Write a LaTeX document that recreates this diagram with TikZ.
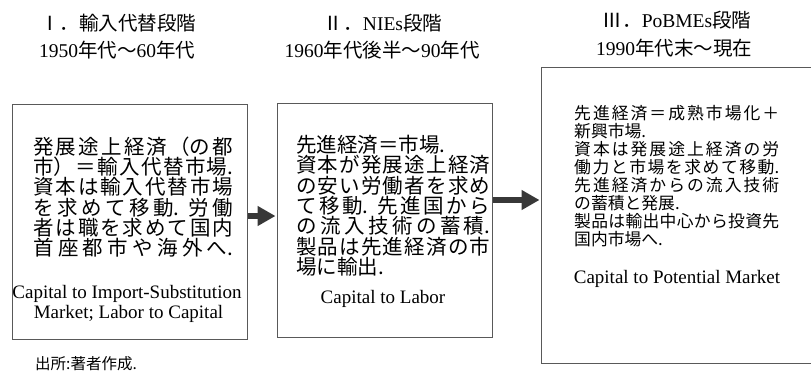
\documentclass[tikz,border=0pt]{standalone}
\usepackage{fontspec}
\setmainfont{Liberation Serif}
\newfontfamily\cjk{Noto Sans CJK JP}
\usetikzlibrary{arrows.meta}
\XeTeXlinebreaklocale "ja"
\XeTeXlinebreakskip=0pt plus 8pt
\newcommand\jfs[2]{\fontsize{#1pt}{#2pt}\selectfont}
\begin{document}
\begin{tikzpicture}[x=1pt,y=-1pt,
  stagebox/.style={draw=black!65, line width=1.1pt, anchor=north west, inner sep=0pt},
  jtext/.style={anchor=base west, inner sep=0pt, font=\cjk},
  etext/.style={anchor=base, inner sep=0pt, font=\fontsize{19pt}{20pt}\selectfont},
  head/.style={anchor=base, inner sep=0pt, font=\fontsize{19.5pt}{20pt}\selectfont},
  bigarrow/.style={line width=5.5pt, draw=black!78, -{Triangle[length=18pt,width=19pt]}, shorten >=1.5pt}
]
\useasboundingbox (0,0) rectangle (811,375);

% boxes
\node[stagebox, minimum width=235pt, minimum height=235pt] (b1) at (12,104) {};
\node[stagebox, minimum width=215pt, minimum height=234pt] (b2) at (277,103) {};
\node[stagebox, minimum width=272pt, minimum height=296pt] (b3) at (541,67) {};

% headings
\node[head] (h1a) at (118,30) {{\cjk Ⅰ．輸入代替段階}};
\node[head] (h1b) at (117,57) {1950{\cjk 年代～}60{\cjk 年代}};
\node[head] (h2a) at (383,30) {{\cjk Ⅱ．}NIEs{\cjk 段階}};
\node[head] (h2b) at (382,57) {1960{\cjk 年代後半～}90{\cjk 年代}};
\node[head] (h3a) at (677,27) {{\cjk Ⅲ．}PoBMEs{\cjk 段階}};
\node[head] (h3b) at (674,55) {1990{\cjk 年代末～現在}};

% box 1 text
\node[jtext] (t1) at (33,154.5) {\parbox[t]{200pt}{\jfs{20.5}{20.2}\parfillskip=0pt
発展途上経済（の都\linebreak
市）＝輸入代替市場.\linebreak
資本は輸入代替市場\linebreak
を求めて移動. 労働\linebreak
者は職を求めて国内\linebreak
首座都市や海外へ.}};
\node[etext] (e1a) at (127,298) {Capital to Import-Substitution};
\node[etext] (e1b) at (128.5,318) {Market; Labor to Capital};

% box 2 text
\node[jtext] (t2) at (296,152.5) {\parbox[t]{194pt}{\jfs{20.5}{20.3}
先進経済＝市場.\par
資本が発展途上経済\linebreak
の安い労働者を求め\linebreak
て移動. 先進国から\linebreak
の流入技術の蓄積.\linebreak
製品は先進経済の市\linebreak
場に輸出.}};
\node[etext] (e2) at (383,303) {Capital to Labor};

% box 3 text
\node[jtext] (t3) at (574,119.5) {\parbox[t]{205pt}{\jfs{16.8}{18}
先進経済＝成熟市場化＋\linebreak
新興市場.\par
資本は発展途上経済の労\linebreak
働力と市場を求めて移動.\linebreak
先進経済からの流入技術\linebreak
の蓄積と発展.\par
製品は輸出中心から投資先\linebreak
国内市場へ.}};
\node[etext] (e3) at (677,283) {Capital to Potential Market};

% source
\node[anchor=base west, inner sep=0pt, font=\cjk\fontsize{15.5pt}{16pt}\selectfont] (src) at (35,369) {出所:著者作成.};

% arrows
\draw[bigarrow] (b1.east |- 0,216) -- (b2.west |- 0,216);
\draw[bigarrow] (b2.east |- 0,200) -- (b3.west |- 0,200);
\end{tikzpicture}
\end{document}
